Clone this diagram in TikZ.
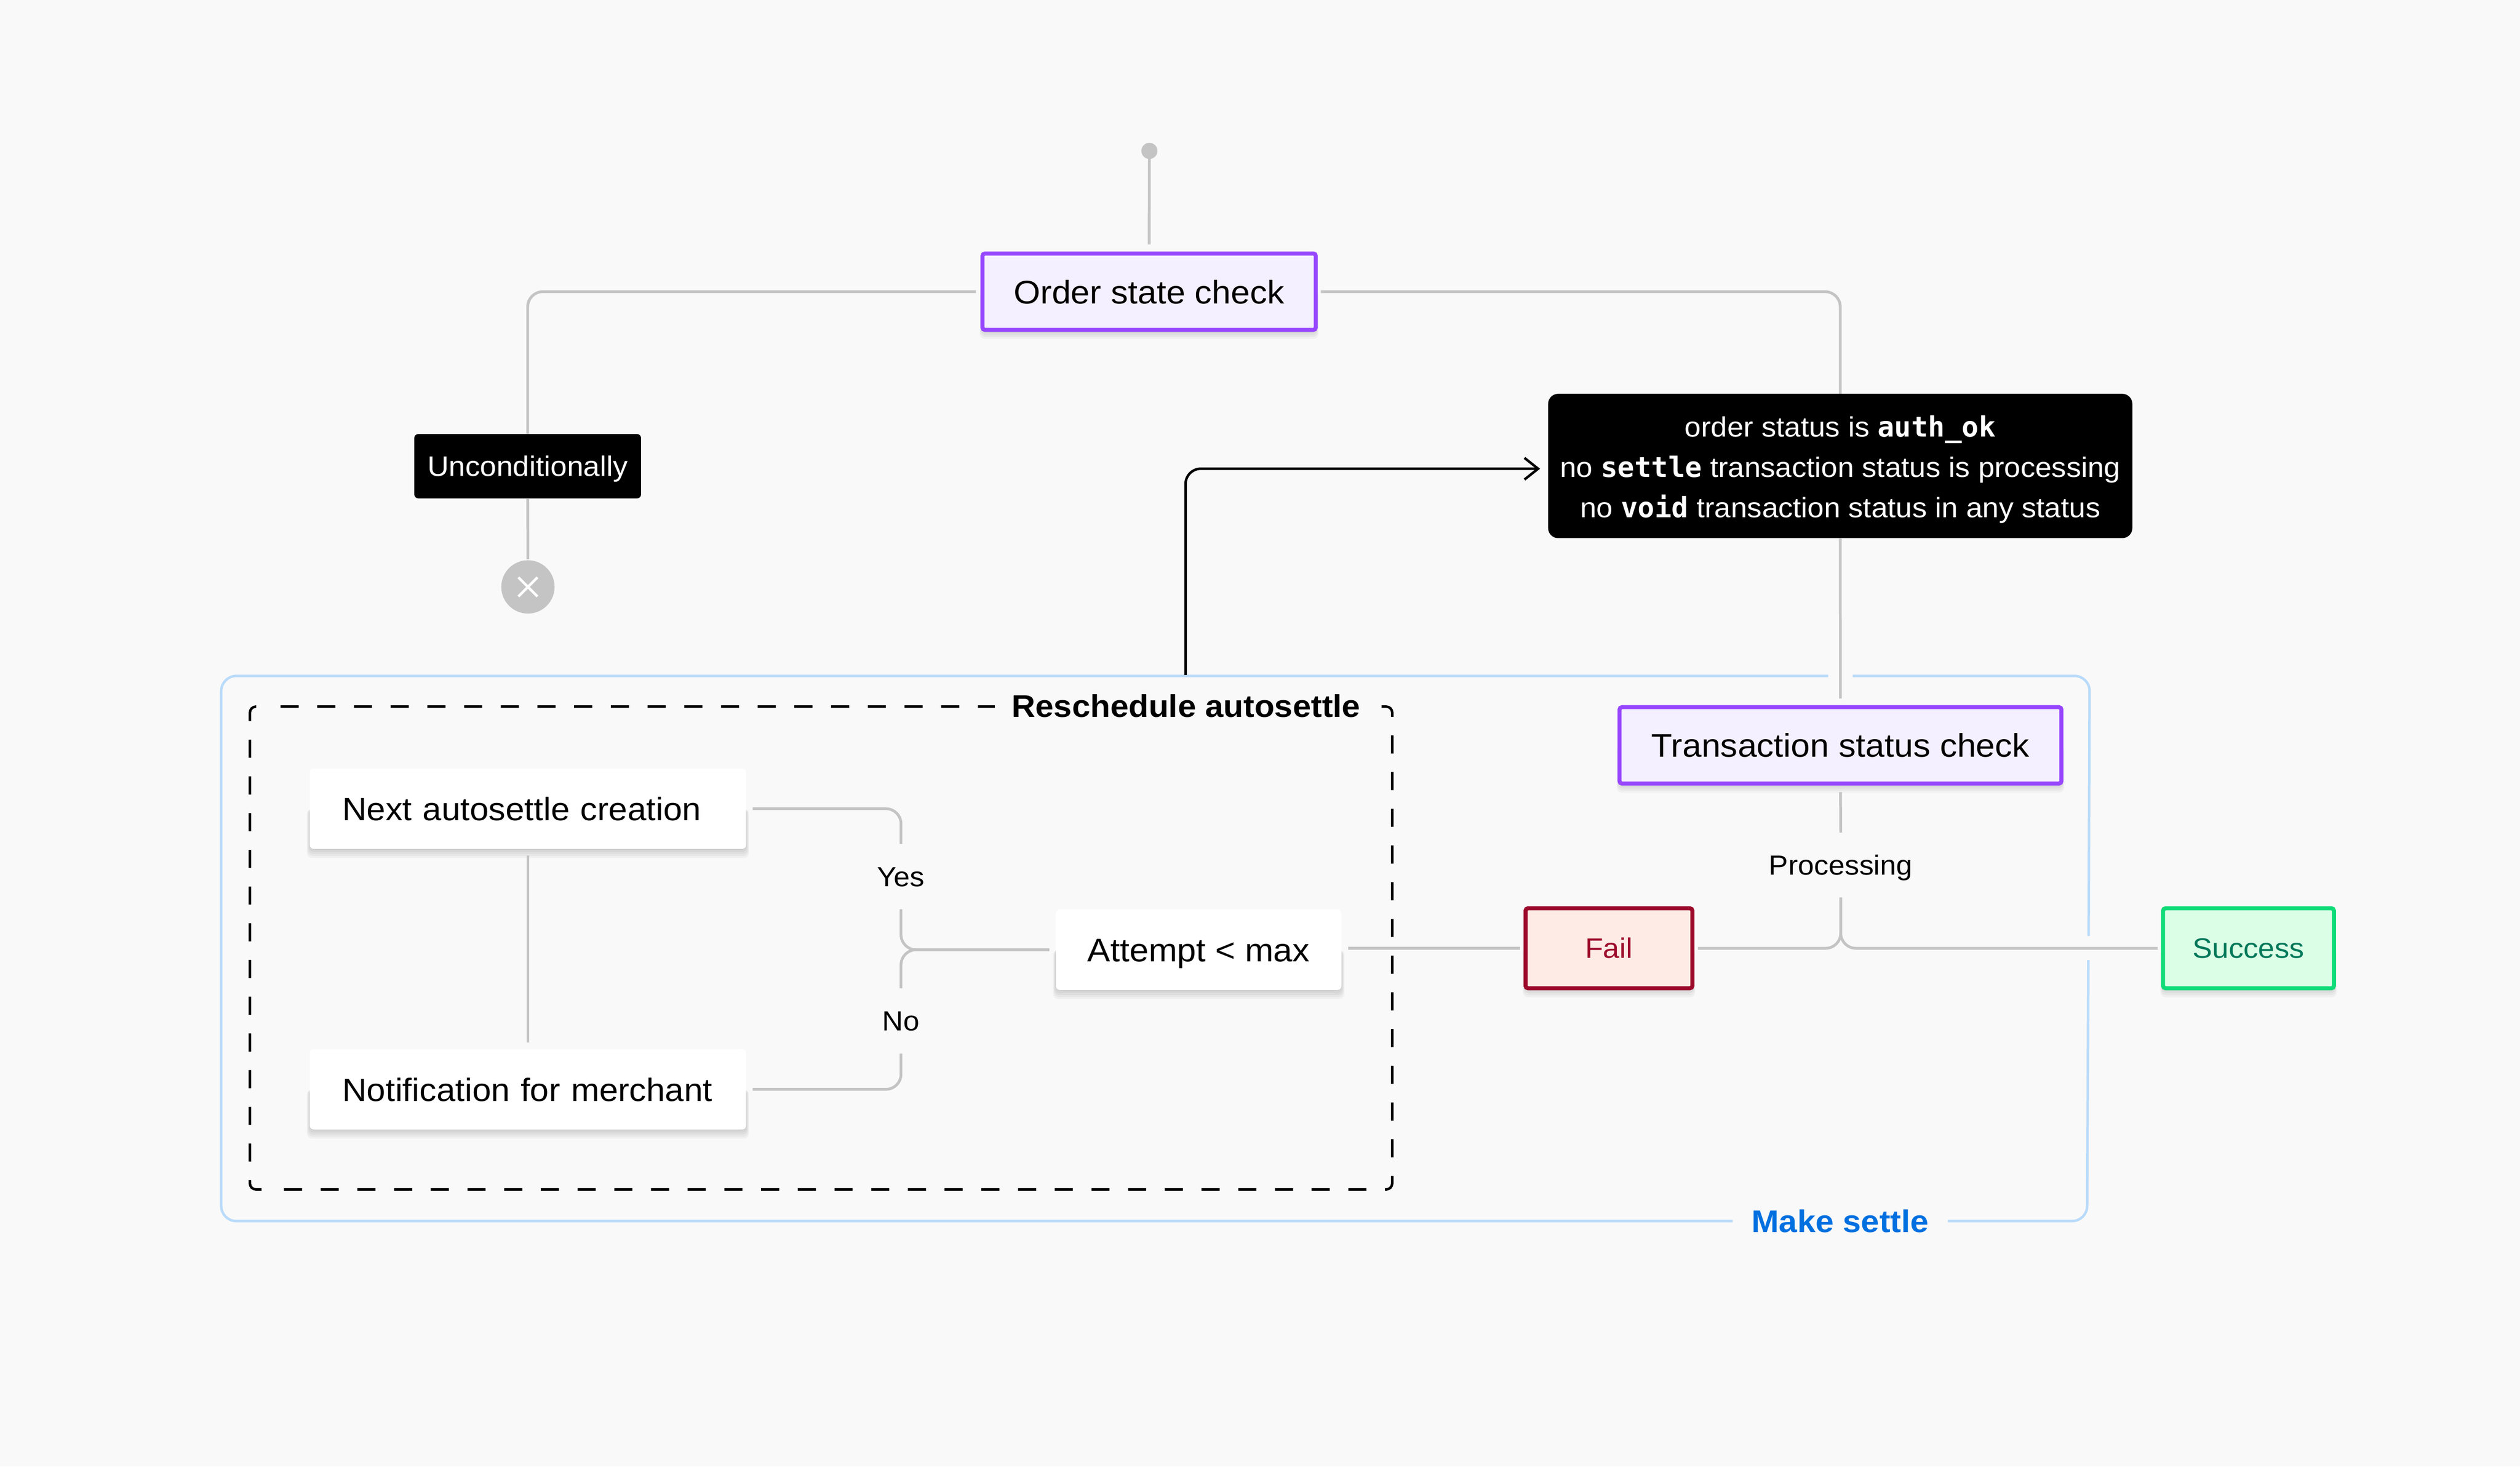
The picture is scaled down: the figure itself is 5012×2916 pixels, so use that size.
\documentclass[tikz,border=0pt]{standalone}
\usepackage{fontspec}
\setmainfont{Liberation Sans}[FakeStretch=1.05]
\newfontfamily\codefont{DejaVu Sans Mono}
\usetikzlibrary{arrows.meta,backgrounds}
\definecolor{bgc}{HTML}{F9F9F9}
\definecolor{connc}{HTML}{C4C4C4}
\definecolor{purp}{HTML}{9747FF}
\definecolor{purpf}{HTML}{F5F0FF}
\definecolor{framec}{HTML}{B9DBFA}
\definecolor{bluet}{HTML}{0070E0}
\definecolor{failc}{HTML}{9C0A2B}
\definecolor{failf}{HTML}{FFEBE5}
\definecolor{succc}{HTML}{0FDB78}
\definecolor{succf}{HTML}{DAFFE6}
\definecolor{succt}{HTML}{00785A}
\pgfdeclarelayer{shad}
\pgfsetlayers{shad,main}
\newcommand{\softshadow}[1]{\begin{pgfonlayer}{shad}\foreach \s in {0.2,0.6,1.0,1.4,1.8}{\fill[black,opacity=.035,rounded corners=1pt] ([xshift=-0.3*\s pt,yshift={-\s pt}]#1.south west) rectangle ([xshift=0.3*\s pt]#1.east);}\end{pgfonlayer}}
\tikzset{
  x=0.1pt,y=-0.1pt,
  base/.style={inner sep=0pt,outer sep=0pt,text height=5.04pt,text depth=1.1pt,align=center},
  stepfont/.style={font=\fontsize{6.5}{8}\selectfont,text height=5.9pt,text depth=1.2pt},
  smallfont/.style={font=\fontsize{5.6}{8}\selectfont},
  purplebox/.style={base,stepfont,draw=purp,fill=purpf,line width=.8pt,rounded corners=.5pt,minimum height=15.2pt},
  whitebox/.style={base,stepfont,fill=white,rounded corners=.8pt,minimum height=16pt},
  leftbox/.style={whitebox,font=\fontsize{6.42}{8}\selectfont,align=left,inner xsep=6.5pt,text width=73.8pt,minimum width=86.8pt},
  tagbox/.style={base,smallfont,fill=black,text=white,rounded corners=.8pt},
  resultbox/.style={base,smallfont,line width=.8pt,rounded corners=.5pt,minimum height=15.9pt},
  edgelabel/.style={base,font=\fontsize{5.5}{8}\selectfont,minimum height=13pt},
  conn/.style={draw=connc,line width=.55pt,rounded corners=3pt},
  framepath/.style={draw=framec,line width=.5pt,rounded corners=3pt},
  dashpath/.style={draw=black,line width=.5pt,dash pattern=on 3.6pt off 3.7pt,rounded corners=1.2pt},
  titlefont/.style={font=\fontsize{6.22}{8}\selectfont\bfseries,text height=5.6pt,text depth=1.2pt},
}
\begin{document}
\begin{tikzpicture}
\useasboundingbox (0,0) rectangle (5012,2916);
\begin{pgfonlayer}{shad}
\fill[bgc] (0,0) rectangle (5012,2916);
\end{pgfonlayer}

% Make settle frame
\draw[framepath] (3685,1344) -- (4156,1344) -- (4154,1861);
\draw[framepath] (4153.5,1909) -- (4151,2428) -- (3874,2428);
\draw[framepath] (3446,2428) -- (440,2428) -- (440,1344) -- (3636,1344);
\node[base,titlefont,text=bluet] (makesettle) at (3660,2428) {Make settle};

% Reschedule frame
\draw[dashpath] (558,1405) -- (2769,1405) -- (2769,2365) -- (558,2365);
\draw[dashpath] (520,2365) -- (497,2365) -- (497,1405) -- (520,1405);
\node[base,titlefont,fill=bgc,minimum width=76pt,minimum height=10pt] (resched) at (2359,1404) {Reschedule autosettle};

% Nodes
\fill[connc] (2286,300) circle (16);
\node[circle,minimum size=3.2pt,inner sep=0pt,outer sep=0pt] (startdot) at (2286,300) {};
\node[purplebox,minimum width=66.3pt] (order) at (2285.5,580) {Order state check};
\node[tagbox,minimum width=45.1pt,minimum height=12.8pt] (uncond) at (1049.5,927) {Unconditionally};
\node[circle,fill=connc,minimum size=10.6pt,inner sep=0pt,outer sep=0pt] (stopc) at (1050,1167) {};
\draw[white,line width=.5pt] ([xshift=-1.9pt,yshift=-1.9pt]stopc.center) -- ([xshift=1.9pt,yshift=1.9pt]stopc.center);
\draw[white,line width=.5pt] ([xshift=-1.9pt,yshift=1.9pt]stopc.center) -- ([xshift=1.9pt,yshift=-1.9pt]stopc.center);
\node[base,font=\fontsize{5.57}{8}\selectfont,fill=black,text=white,rounded corners=2pt,minimum width=116.2pt,minimum height=28.7pt,text height=,text depth=] (cond) at (3660,926.5) {\rule{0pt}{5.6pt}order status is {\codefont\bfseries auth\_ok}\\no {\codefont\bfseries settle} transaction status is processing\\no {\codefont\bfseries void} transaction status in any status};
\node[purplebox,minimum width=87.9pt] (tx) at (3660.5,1482) {Transaction status check};
\node[leftbox] (next) at (1050,1608) {\mbox{Next autosettle creation}};
\node[leftbox] (notif) at (1050,2166) {\mbox{Notification for merchant}};
\node[whitebox,minimum width=56.8pt] (attempt) at (2384,1888.5) {Attempt < max};
\node[resultbox,draw=failc,fill=failf,text=failc,minimum width=33.2pt] (fail) at (3200,1885.5) {Fail};
\node[resultbox,draw=succc,fill=succf,text=succt,minimum width=34pt] (success) at (4472,1885.5) {Success};
\node[edgelabel] (yes) at (1792,1743) {Yes};
\node[edgelabel] (no) at (1792,2030) {No};
\node[edgelabel,minimum height=12.9pt] (proc) at (3661,1720) {Processing};
\softshadow{order}
\softshadow{tx}
\softshadow{next}
\softshadow{notif}
\softshadow{attempt}
\softshadow{fail}
\softshadow{success}

% Connectors
\draw[conn,shorten >=1.8pt] (startdot.center) -- (order.north);
\draw[conn,shorten <=1.3pt] (order.west) -| (uncond.north);
\draw[conn,shorten >=.2pt] (uncond.south) -- (stopc.north);
\draw[conn,shorten <=1pt] (order.east) -| (cond.north);
\draw[conn,shorten >=1.7pt] (cond.south) -- (tx.north);
\draw[conn,shorten <=1.7pt] (tx.south) -- (proc.north);
\draw[conn,shorten <=1.1pt,shorten >=0pt] (fail.east) -| (proc.south);
\draw[conn,shorten >=1.1pt] (proc.south) |- (success.west);
\draw[conn,shorten <=1.3pt] (next.east) -| (yes.north);
\draw[conn,shorten <=1.3pt] (notif.east) -| (no.south);
\draw[conn,shorten >=1.3pt] (yes.south) |- (attempt.west);
\draw[conn,shorten >=1.3pt] (no.north) |- (attempt.west);
\draw[conn,shorten <=1.3pt,shorten >=1.1pt] (attempt.east |- fail.west) -- (fail.west);
\draw[conn,shorten <=1.3pt,shorten >=1.3pt] (next.south) -- (notif.north);
\coordinate (reschedup) at (2358,1342);
\coordinate (condin) at ([yshift=-.55pt]cond.west);
\draw[black,line width=.5pt,rounded corners=3pt,-{Straight Barb[length=2.7pt,width=4.3pt,line width=.5pt]},shorten >=1.6pt] (reschedup) |- (condin);
\end{tikzpicture}
\end{document}
